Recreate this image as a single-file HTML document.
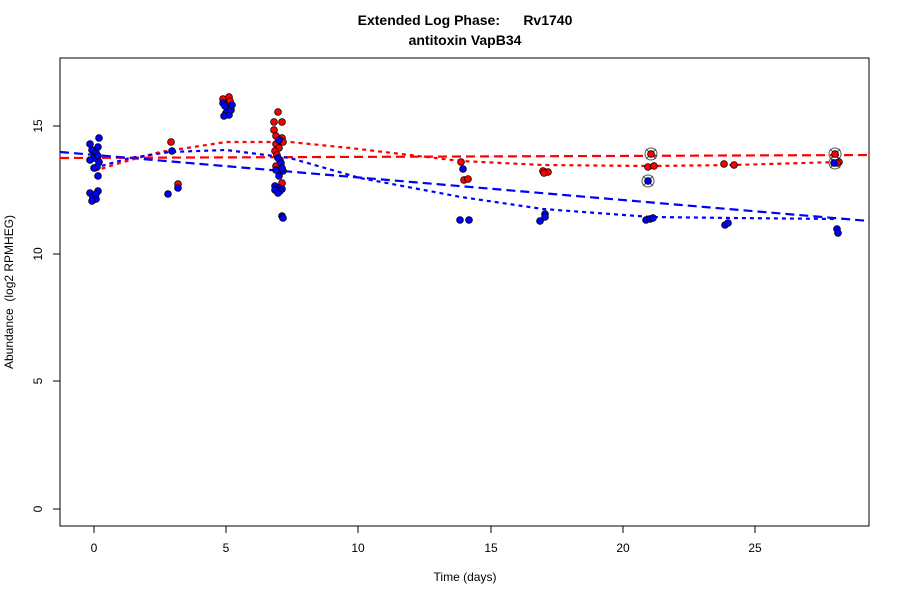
<!DOCTYPE html>
<html><head><meta charset="utf-8"><style>body{margin:0;background:#fff}svg{display:block}text{font-family:"Liberation Sans",sans-serif;font-size:12px}</style></head><body>
<svg width="900" height="600" viewBox="0 0 900 600">
<text x="465" y="25" text-anchor="middle" font-weight="bold" style="font-size:14px" xml:space="preserve">Extended Log Phase:      Rv1740</text>
<text x="465" y="45" text-anchor="middle" font-weight="bold" style="font-size:14px">antitoxin VapB34</text>
<rect x="60" y="58" width="809" height="468" fill="none" stroke="#000"/>
<g stroke="#000">
<line x1="94" y1="526" x2="755" y2="526"/>
<line x1="94" y1="526" x2="94" y2="533"/><line x1="226" y1="526" x2="226" y2="533"/><line x1="358" y1="526" x2="358" y2="533"/><line x1="491" y1="526" x2="491" y2="533"/><line x1="623" y1="526" x2="623" y2="533"/><line x1="755" y1="526" x2="755" y2="533"/>
<line x1="60" y1="126" x2="60" y2="509"/>
<line x1="53" y1="509" x2="60" y2="509"/><line x1="53" y1="381" x2="60" y2="381"/><line x1="53" y1="254" x2="60" y2="254"/><line x1="53" y1="126" x2="60" y2="126"/>
</g>
<g text-anchor="middle">
<text x="94" y="552">0</text><text x="226" y="552">5</text><text x="358" y="552">10</text><text x="491" y="552">15</text><text x="623" y="552">20</text><text x="755" y="552">25</text>
<text x="465" y="581">Time  (days)</text>
<text transform="translate(42,509) rotate(-90)">0</text>
<text transform="translate(42,381) rotate(-90)">5</text>
<text transform="translate(42,254) rotate(-90)">10</text>
<text transform="translate(42,126) rotate(-90)">15</text>
<text transform="translate(13,292) rotate(-90)" xml:space="preserve">Abundance  (log2 RPMHEG)</text>
</g>
<g fill="none" stroke-width="2.2">
<line x1="60" y1="158" x2="869" y2="155" stroke="#f00" stroke-dasharray="9,5"/>
<line x1="60" y1="152" x2="869" y2="221" stroke="#00f" stroke-dasharray="9,5"/>
<polyline stroke="#f00" stroke-dasharray="4,4" points="94,171 120,163 160,152 200,146 226,142 250,142 290,142 350,148 461,161 543,165 651,166 734,165 837,162"/>
<polyline stroke="#00f" stroke-dasharray="4,4" points="94,168 130,158 170,152 226,150 290,158 360,178 461,197 543,209 651,217 734,218 837,219"/>
</g>
<g stroke="#555" fill="none" stroke-width="1">
<circle cx="651" cy="154" r="6"/><circle cx="648" cy="181" r="6"/><circle cx="835" cy="154" r="6"/><circle cx="835" cy="163" r="6"/>
<path d="M646 149l10 10M656 149l-10 10M643 176l10 10M653 176l-10 10M830 149l10 10M840 149l-10 10M830 158l10 10M840 158l-10 10"/>
</g>
<g stroke="#000" stroke-width="0.8" fill="#f00">
<circle cx="171" cy="142" r="3.4"/><circle cx="178" cy="184" r="3.4"/>
<circle cx="223" cy="99" r="3.4"/><circle cx="229" cy="97" r="3.4"/><circle cx="230" cy="101" r="3.4"/>
<circle cx="278" cy="112" r="3.4"/><circle cx="274" cy="122" r="3.4"/><circle cx="282" cy="122" r="3.4"/><circle cx="274" cy="130" r="3.4"/><circle cx="276" cy="136" r="3.4"/><circle cx="282" cy="138" r="3.4"/><circle cx="276" cy="144" r="3.4"/><circle cx="279" cy="148" r="3.4"/><circle cx="283" cy="142" r="3.4"/><circle cx="275" cy="151" r="3.4"/><circle cx="277" cy="155" r="3.4"/><circle cx="280" cy="160" r="3.4"/><circle cx="276" cy="166" r="3.4"/><circle cx="282" cy="183" r="3.4"/>
<circle cx="461" cy="162" r="3.4"/><circle cx="464" cy="180" r="3.4"/><circle cx="468" cy="179" r="3.4"/>
<circle cx="543" cy="171" r="3.4"/><circle cx="548" cy="172" r="3.4"/><circle cx="544" cy="173" r="3.4"/>
<circle cx="651" cy="154" r="3.4"/><circle cx="648" cy="167" r="3.4"/><circle cx="654" cy="166" r="3.4"/>
<circle cx="724" cy="164" r="3.4"/><circle cx="734" cy="165" r="3.4"/>
<circle cx="835" cy="154" r="3.4"/><circle cx="839" cy="162" r="3.4"/><circle cx="837" cy="163" r="3.4"/>
</g>
<g stroke="#000" stroke-width="0.8" fill="#00f">
<circle cx="90" cy="144" r="3.4"/><circle cx="92" cy="150" r="3.4"/><circle cx="98" cy="147" r="3.4"/><circle cx="96" cy="153" r="3.4"/><circle cx="94" cy="158" r="3.4"/><circle cx="98" cy="156" r="3.4"/><circle cx="90" cy="160" r="3.4"/><circle cx="99" cy="162" r="3.4"/><circle cx="97" cy="167" r="3.4"/><circle cx="94" cy="168" r="3.4"/><circle cx="98" cy="176" r="3.4"/><circle cx="99" cy="138" r="3.4"/>
<circle cx="90" cy="193" r="3.4"/><circle cx="93" cy="197" r="3.4"/><circle cx="96" cy="199" r="3.4"/><circle cx="98" cy="191" r="3.4"/><circle cx="92" cy="201" r="3.4"/><circle cx="96" cy="194" r="3.4"/>
<circle cx="172" cy="151" r="3.4"/><circle cx="168" cy="194" r="3.4"/><circle cx="178" cy="188" r="3.4"/>
<circle cx="223" cy="103" r="3.4"/><circle cx="228" cy="108" r="3.4"/><circle cx="226" cy="113" r="3.4"/><circle cx="229" cy="115" r="3.4"/><circle cx="231" cy="110" r="3.4"/><circle cx="224" cy="116" r="3.4"/><circle cx="232" cy="105" r="3.4"/><circle cx="225" cy="106" r="3.4"/>
<circle cx="279" cy="140" r="3.4"/><circle cx="278" cy="158" r="3.4"/><circle cx="281" cy="163" r="3.4"/><circle cx="276" cy="170" r="3.4"/><circle cx="283" cy="171" r="3.4"/><circle cx="279" cy="176" r="3.4"/><circle cx="282" cy="168" r="3.4"/><circle cx="275" cy="186" r="3.4"/><circle cx="279" cy="188" r="3.4"/><circle cx="282" cy="189" r="3.4"/><circle cx="275" cy="190" r="3.4"/><circle cx="280" cy="191" r="3.4"/><circle cx="278" cy="193" r="3.4"/><circle cx="282" cy="216" r="3.4"/><circle cx="283" cy="218" r="3.4"/>
<circle cx="463" cy="169" r="3.4"/><circle cx="460" cy="220" r="3.4"/><circle cx="469" cy="220" r="3.4"/>
<circle cx="545" cy="214" r="3.4"/><circle cx="540" cy="221" r="3.4"/><circle cx="545" cy="217" r="3.4"/>
<circle cx="648" cy="181" r="3.4"/><circle cx="646" cy="220" r="3.4"/><circle cx="650" cy="219" r="3.4"/><circle cx="653" cy="218" r="3.4"/>
<circle cx="725" cy="225" r="3.4"/><circle cx="728" cy="223" r="3.4"/>
<circle cx="834" cy="163" r="3.4"/><circle cx="837" cy="229" r="3.4"/><circle cx="838" cy="233" r="3.4"/>
</g>
</svg>
</body></html>
